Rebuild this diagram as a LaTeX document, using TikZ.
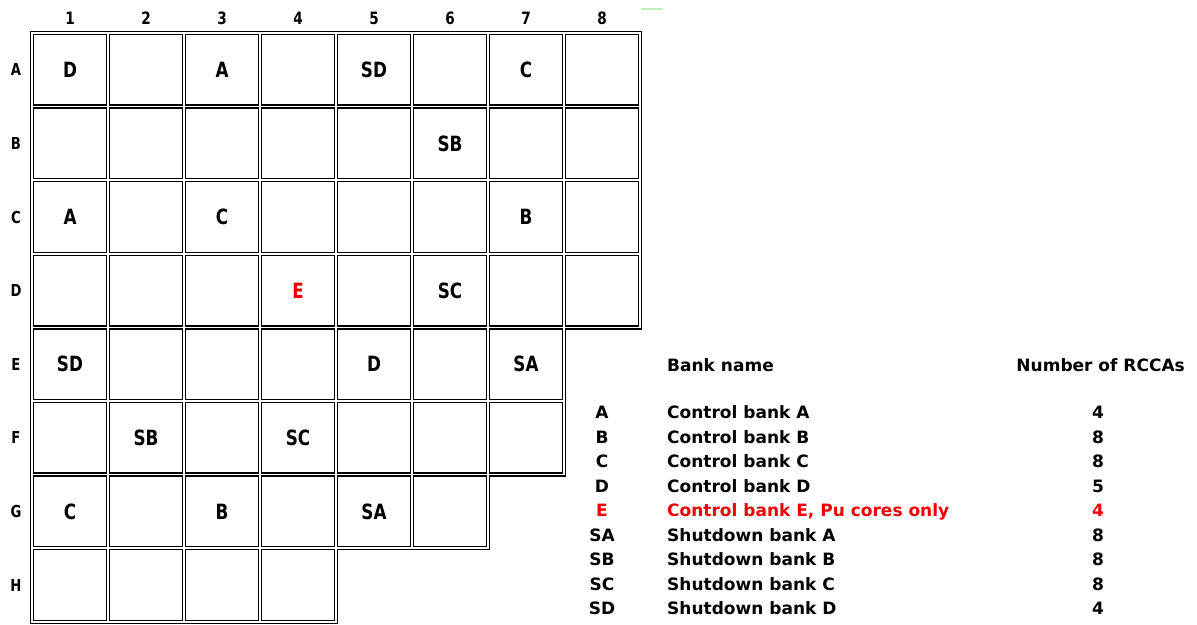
\documentclass[tikz,border=0pt]{standalone}
\usepackage{fontspec}
\setmainfont{DejaVu Sans}
\newfontfamily\cellfont{DejaVu Sans}[FakeStretch=0.8]
\usetikzlibrary{positioning}
\definecolor{bankred}{RGB}{240, 0, 0}
\definecolor{markgreen}{RGB}{190, 240, 190}

\begin{document}
\begin{tikzpicture}[
    x=1pt, y=-1pt,
    cell/.style={
      draw, line width=1.4pt, minimum width=73pt,
      minimum height=70.5pt, inner sep=0pt
    },
    celltext/.style={font=\cellfont\fontsize{21}{24}\selectfont\bfseries},
    rowlab/.style={font=\cellfont\fontsize{16.5}{19}\selectfont\bfseries},
    collab/.style={font=\cellfont\fontsize{17}{20}\selectfont\bfseries},
    legtext/.style={font=\fontsize{17}{20}\selectfont\bfseries, inner sep=0pt,
      text height=12.5pt, text depth=3.5pt},
]
    \useasboundingbox (0,0) rectangle (1197,624);

    % Grid of cells, one row per letter
    \foreach \r/\n [count=\i] in {A/8,B/8,C/8,D/8,E/7,F/7,G/6,H/4} {
      \node[rowlab] (row-\r) at (16, {33+73.6*(\i-0.5)}) {\r};
      \foreach \c in {1,...,\n}
        \node[cell] (\r\c) at ({32+76*(\c-0.5)}, {33+73.6*(\i-0.5)}) {};
    }
    \foreach \c in {1,...,8}
      \node[collab] (col-\c) at ({32+76*(\c-0.5)}, 18) {\c};

    % Outer frame
    \draw[line width=1.4pt] (30.5,31.5) -- (641.5,31.5) -- (641.5,328.9)
      -- (565.5,328.9) -- (565.5,476.1) -- (489.5,476.1) -- (489.5,549.7)
      -- (337.5,549.7) -- (337.5,623.3) -- (30.5,623.3) -- cycle;

    % Bank positions
    \foreach \pos/\txt in {A1/D, A3/A, A5/SD, A7/C, B6/SB, C1/A, C3/C, C7/B,
        D6/SC, E1/SD, E5/D, E7/SA, F2/SB, F4/SC, G1/C, G3/B, G5/SA}
      \node[celltext] (t-\pos) at (\pos) {\txt};
    \node[celltext, bankred] (t-D4) at (D4) {E};

    % Legend
    \node[legtext, anchor=west] (hd-name) at (667, 367) {Bank name};
    \node[legtext, anchor=east] (hd-count) at (1185, 367) {Number of RCCAs};
    \foreach \code/\name/\num [count=\k] in {A/Control bank A/4, B/Control bank B/8,
        C/Control bank C/8, D/Control bank D/5,
        E/Control bank E{,} Pu cores only/4,
        SA/Shutdown bank A/8, SB/Shutdown bank B/8,
        SC/Shutdown bank C/8, SD/Shutdown bank D/4} {
      \ifnum\k=5 \def\lc{bankred}\else \def\lc{black}\fi
      \node[legtext, text=\lc] (code-\k) at (602, {414+24.55*(\k-1)}) {\code};
      \node[legtext, text=\lc, anchor=west] (name-\k) at (667, {414+24.55*(\k-1)}) {\name};
      \node[legtext, text=\lc] (num-\k) at (1098, {414+24.55*(\k-1)}) {\num};
    }

    % Stray mark at top
    \draw[markgreen, line width=1.5pt] (641,9) coordinate (mk-a) -- (663,9) coordinate (mk-b);
\end{tikzpicture}
\end{document}
